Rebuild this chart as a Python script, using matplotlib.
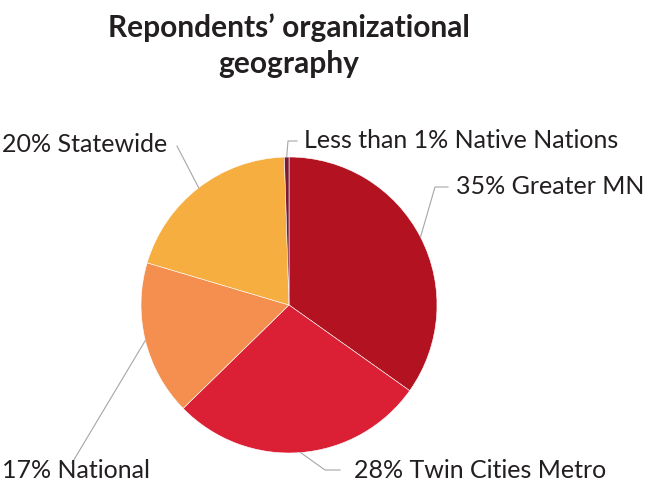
import numpy as np
import matplotlib
matplotlib.use("Agg")
import matplotlib.pyplot as plt

plt.rcParams["font.family"] = ["Lato", "DejaVu Sans"]

# Share of respondents by organizational geography (percent), clockwise from top
labels = [
    "35% Greater MN",
    "28% Twin Cities Metro",
    "17% National",
    "20% Statewide",
    "Less than 1% Native Nations",
]
shares = [35, 28, 17, 20, 0.5]
colors = ["#B31320", "#DB1F35", "#F48F50", "#F6AE40", "#7A1A38"]

W, H = 648, 487
CX, CY, R = 289, 305, 148  # pie centre / radius in pixels


def px(x, y):
    """pixel position (from top-left) -> pie data coords"""
    return (x - CX) / R, (CY - y) / R


# optional elbow, line end and text anchor for each label
layout = [
    dict(elbow=px(435, 187), end=px(448, 187), text=px(456, 187)),
    dict(elbow=px(325, 470), end=px(340, 470), text=px(354, 470)),
    dict(elbow=None, end=px(72, 463), text=px(2, 470)),
    dict(elbow=None, end=px(177, 146), text=px(2, 145)),
    dict(elbow=px(288, 141), end=px(297, 141), text=px(304, 140)),
]

fig = plt.figure(figsize=(W / 100, H / 100), dpi=100)
ax = fig.add_axes([(CX - R) / W, (H - CY - R) / H, 2 * R / W, 2 * R / H])
wedges, _ = ax.pie(
    shares,
    colors=colors,
    startangle=90,
    counterclock=False,
    radius=1,
    wedgeprops=dict(edgecolor="white", linewidth=0.4),
)
ax.set_xlim(-1, 1)
ax.set_ylim(-1, 1)

for w, lab, lay in zip(wedges, labels, layout):
    mid = np.deg2rad((w.theta1 + w.theta2) / 2)
    pts = [(np.cos(mid), np.sin(mid))]
    if lay["elbow"] is not None:
        pts.append(lay["elbow"])
    pts.append(lay["end"])
    xs, ys = zip(*pts)
    ax.plot(xs, ys, color="#A6A6A6", lw=0.8, clip_on=False)
    ax.text(lay["text"][0], lay["text"][1], lab, ha="left", va="center",
            fontsize=18, color="#231F20", clip_on=False)

# two-line title, baselines placed separately
for line, base in [("Repondents’ organizational", 37), ("geography", 73)]:
    fig.text(CX / W, 1 - base / H, line, ha="center", va="baseline",
             fontsize=21.5, fontweight="bold", color="#231F20")

fig.savefig("out.png", dpi=100)
